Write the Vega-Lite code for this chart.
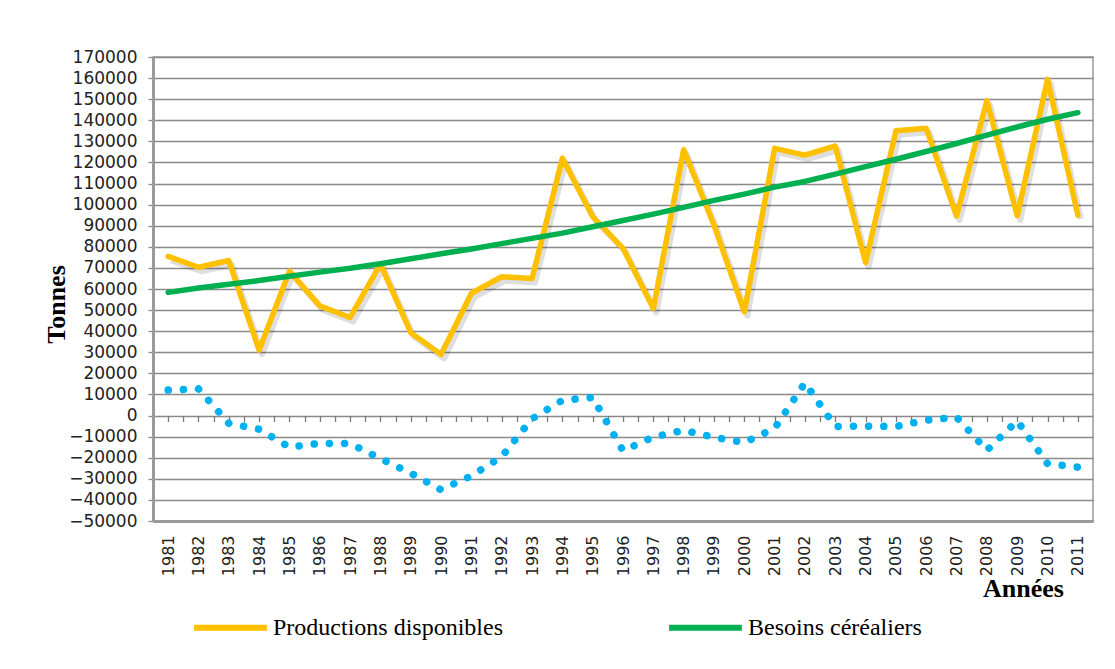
{
  "$schema": "https://vega.github.io/schema/vega-lite/v6.json",
  "width": 940,
  "height": 464,
  "autosize": {"type": "none"},
  "padding": {"left": 153, "top": 57, "right": 22, "bottom": 148},
  "background": "white",
  "config": {
    "view": {"stroke": "#9a9a9a", "strokeWidth": 1.5},
    "legend": {"padding": 0},
    "axisY": {
      "format": "d", "labelFont": "DejaVu Sans", "labelFontSize": 17, "labelColor": "#222222",
      "labelPadding": 11, "labelOverlap": false, "labelFlush": false,
      "tickSize": 5, "tickColor": "#8a8a8a", "tickWidth": 1.3,
      "domainColor": "#9a9a9a", "domainWidth": 3,
      "grid": true, "gridColor": "#8a8a8a", "gridWidth": 1.3,
      "titleFont": "Liberation Serif", "titleFontSize": 26, "titleFontWeight": "bold",
      "titleColor": "black", "titleAngle": -90, "titleX": -89, "titleY": 247, "titleAlign": "center", "titleBaseline": "alphabetic"
    }
  },
  "data": {
    "values": [
      {"annee": 1981, "Productions disponibles": 75500, "Besoins céréaliers": 58400, "ecart": 12100},
      {"annee": 1982, "Productions disponibles": 70300, "Besoins céréaliers": 60500, "ecart": 12600},
      {"annee": 1983, "Productions disponibles": 73500, "Besoins céréaliers": 62300, "ecart": -3700},
      {"annee": 1984, "Productions disponibles": 31000, "Besoins céréaliers": 64000, "ecart": -6500},
      {"annee": 1985, "Productions disponibles": 68500, "Besoins céréaliers": 66000, "ecart": -15000},
      {"annee": 1986, "Productions disponibles": 52000, "Besoins céréaliers": 68000, "ecart": -13200},
      {"annee": 1987, "Productions disponibles": 46500, "Besoins céréaliers": 69800, "ecart": -13300},
      {"annee": 1988, "Productions disponibles": 71800, "Besoins céréaliers": 72000, "ecart": -20400},
      {"annee": 1989, "Productions disponibles": 39300, "Besoins céréaliers": 74300, "ecart": -27300},
      {"annee": 1990, "Productions disponibles": 29000, "Besoins céréaliers": 76700, "ecart": -35200},
      {"annee": 1991, "Productions disponibles": 58000, "Besoins céréaliers": 79000, "ecart": -28600},
      {"annee": 1992, "Productions disponibles": 65800, "Besoins céréaliers": 81500, "ecart": -19500},
      {"annee": 1993, "Productions disponibles": 65000, "Besoins céréaliers": 84000, "ecart": -1500},
      {"annee": 1994, "Productions disponibles": 122000, "Besoins céréaliers": 86500, "ecart": 7200},
      {"annee": 1995, "Productions disponibles": 94300, "Besoins céréaliers": 89500, "ecart": 8600},
      {"annee": 1996, "Productions disponibles": 79300, "Besoins céréaliers": 92500, "ecart": -16700},
      {"annee": 1997, "Productions disponibles": 50800, "Besoins céréaliers": 95500, "ecart": -10200},
      {"annee": 1998, "Productions disponibles": 126000, "Besoins céréaliers": 98700, "ecart": -7000},
      {"annee": 1999, "Productions disponibles": 90300, "Besoins céréaliers": 102000, "ecart": -10300},
      {"annee": 2000, "Productions disponibles": 49200, "Besoins céréaliers": 105000, "ecart": -12800},
      {"annee": 2001, "Productions disponibles": 126700, "Besoins céréaliers": 108300, "ecart": -6100},
      {"annee": 2002, "Productions disponibles": 123500, "Besoins céréaliers": 111000, "ecart": 15500},
      {"annee": 2003, "Productions disponibles": 127800, "Besoins céréaliers": 114500, "ecart": -5200},
      {"annee": 2004, "Productions disponibles": 72500, "Besoins céréaliers": 118000, "ecart": -5000},
      {"annee": 2005, "Productions disponibles": 135000, "Besoins céréaliers": 121500, "ecart": -5200},
      {"annee": 2006, "Productions disponibles": 136200, "Besoins céréaliers": 125200, "ecart": -2200},
      {"annee": 2007, "Productions disponibles": 94600, "Besoins céréaliers": 129000, "ecart": -800},
      {"annee": 2008, "Productions disponibles": 149300, "Besoins céréaliers": 133000, "ecart": -16500},
      {"annee": 2009, "Productions disponibles": 94700, "Besoins céréaliers": 136800, "ecart": -2500},
      {"annee": 2010, "Productions disponibles": 159400, "Besoins céréaliers": 140500, "ecart": -22800},
      {"annee": 2011, "Productions disponibles": 95000, "Besoins céréaliers": 143600, "ecart": -24500}
    ]
  },
  "layer": [
    {
      "mark": {"type": "line", "color": "#00B0F0", "strokeWidth": 7.5, "strokeCap": "round", "strokeDash": [0.1, 15.1]},
      "encoding": {
        "x": {
          "field": "annee", "type": "quantitative",
          "scale": {"domain": [1980.5, 2011.5], "nice": false, "zero": false},
          "axis": {
            "values": [1981,1982,1983,1984,1985,1986,1987,1988,1989,1990,1991,1992,1993,1994,1995,1996,1997,1998,1999,2000,2001,2002,2003,2004,2005,2006,2007,2008,2009,2010,2011],
            "tickCount": 40,
            "format": "d", "labelAngle": -90, "labelAlign": "right", "labelBaseline": "middle",
            "labelFont": "DejaVu Sans", "labelFontSize": 16, "labelColor": "#222222", "labelPadding": 14,
            "labelOverlap": false, "labelFlush": false,
            "ticks": false, "grid": false, "domainColor": "#9a9a9a", "domainWidth": 3,
            "title": "Années", "titleFont": "Liberation Serif", "titleFontSize": 26, "titleFontWeight": "bold",
            "titleColor": "black", "titleX": 870, "titleY": 75, "titleAlign": "center", "titleBaseline": "alphabetic"
          }
        },
        "y": {
          "field": "ecart", "type": "quantitative", "title": "Tonnes",
          "scale": {"domain": [-50000, 170000], "nice": false},
          "axis": {
            "tickCount": 30,
            "values": [-50000,-40000,-30000,-20000,-10000,0,10000,20000,30000,40000,50000,60000,70000,80000,90000,100000,110000,120000,130000,140000,150000,160000,170000]
          }
        }
      }
    },
    {
      "mark": {"type": "line", "color": "#000000", "opacity": 0.13, "strokeWidth": 6, "xOffset": 3, "yOffset": 4, "strokeJoin": "round"},
      "encoding": {
        "x": {
          "field": "annee", "type": "quantitative",
          "axis": {
            "orient": "bottom", "offset": -105.5, "tickCount": 80,
            "values": [1981,1981.5,1982,1982.5,1983,1983.5,1984,1984.5,1985,1985.5,1986,1986.5,1987,1987.5,1988,1988.5,1989,1989.5,1990,1990.5,1991,1991.5,1992,1992.5,1993,1993.5,1994,1994.5,1995,1995.5,1996,1996.5,1997,1997.5,1998,1998.5,1999,1999.5,2000,2000.5,2001,2001.5,2002,2002.5,2003,2003.5,2004,2004.5,2005,2005.5,2006,2006.5,2007,2007.5,2008,2008.5,2009,2009.5,2010,2010.5,2011],
            "labels": false, "ticks": true, "tickSize": 6, "tickColor": "#7a7a7a", "tickWidth": 1.3,
            "domain": false, "grid": false, "title": null
          }
        },
        "y": {
          "field": "Productions disponibles", "type": "quantitative", "title": "Tonnes",
          "axis": {
            "tickCount": 30,
            "values": [-50000,-40000,-30000,-20000,-10000,0,10000,20000,30000,40000,50000,60000,70000,80000,90000,100000,110000,120000,130000,140000,150000,160000,170000]
          }
        }
      }
    },
    {
      "transform": [{"fold": ["Productions disponibles", "Besoins céréaliers"], "as": ["serie", "valeur"]}],
      "mark": {"type": "line", "strokeWidth": 5.5, "strokeJoin": "round", "strokeCap": "round"},
      "encoding": {
        "x": {"field": "annee", "type": "quantitative", "axis": null},
        "y": {
          "field": "valeur", "type": "quantitative", "title": "Tonnes",
          "axis": {
            "tickCount": 30,
            "values": [-50000,-40000,-30000,-20000,-10000,0,10000,20000,30000,40000,50000,60000,70000,80000,90000,100000,110000,120000,130000,140000,150000,160000,170000]
          }
        },
        "color": {
          "field": "serie", "type": "nominal",
          "scale": {"domain": ["Productions disponibles", "Besoins céréaliers"], "range": ["#FFC000", "#00B050"]},
          "legend": {
            "orient": "none", "legendX": 38, "legendY": 531, "direction": "horizontal", "title": null,
            "symbolType": "stroke", "symbolSize": 5300, "symbolStrokeWidth": 6,
            "labelFont": "Liberation Serif", "labelFontSize": 24, "labelColor": "black",
            "labelOffset": 3, "columnPadding": 153, "labelLimit": 400
          }
        }
      }
    }
  ],
  "resolve": {"axis": {"x": "independent"}}
}
